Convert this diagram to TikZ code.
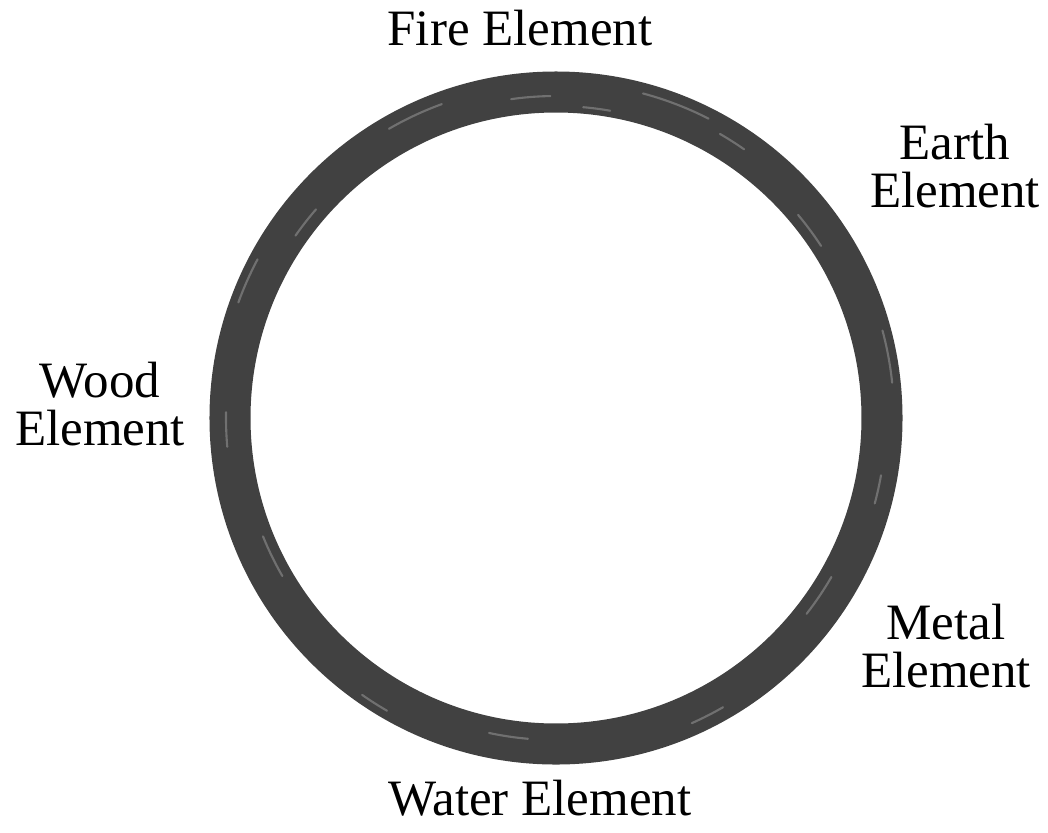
\documentclass[tikz,border=0pt]{standalone}
\usepackage{fontspec}
\setmainfont{Liberation Serif}
\usetikzlibrary{positioning}
\definecolor{inkgray}{HTML}{414141}

\begin{document}
\begin{tikzpicture}[
    x=0.01cm, y=-0.01cm,
    elem/.style={font=\fontsize{14.5}{13.4}\selectfont, align=center, inner sep=0pt, anchor=base},
    ring/.style={draw=inkgray, line width=0.41cm},
    streak/.style={draw=white, opacity=0.25, line width=0.6pt, line cap=round}
]
\useasboundingbox (0,0) rectangle (1048,833);
\coordinate (c) at (556,418);

% brush ring
\draw[ring] (c) circle[radius=326];
\foreach \a/\r/\l in {200/338/8, 215/318/6, 240/334/10, 262/322/7, 275/312/5,
                      285/336/12, 300/328/5, 320/316/7, 345/338/9, 10/330/5,
                      30/318/8, 60/334/6, 95/322/7, 120/338/5, 150/316/8, 175/330/6}
  \draw[streak] (c) ++(\a:\r) arc[start angle=\a, delta angle=\l, radius=\r];

\node[elem] (fire) at (520,45) {Fire Element};
\node[elem] (earth) at (955,207) {Earth\\Element};
\node[elem] (wood) at (100,445) {Wood\\Element};
\node[elem] (metal) at (946,687) {Metal\\Element};
\node[elem] (water) at (540,815) {Water Element};
\end{tikzpicture}
\end{document}
